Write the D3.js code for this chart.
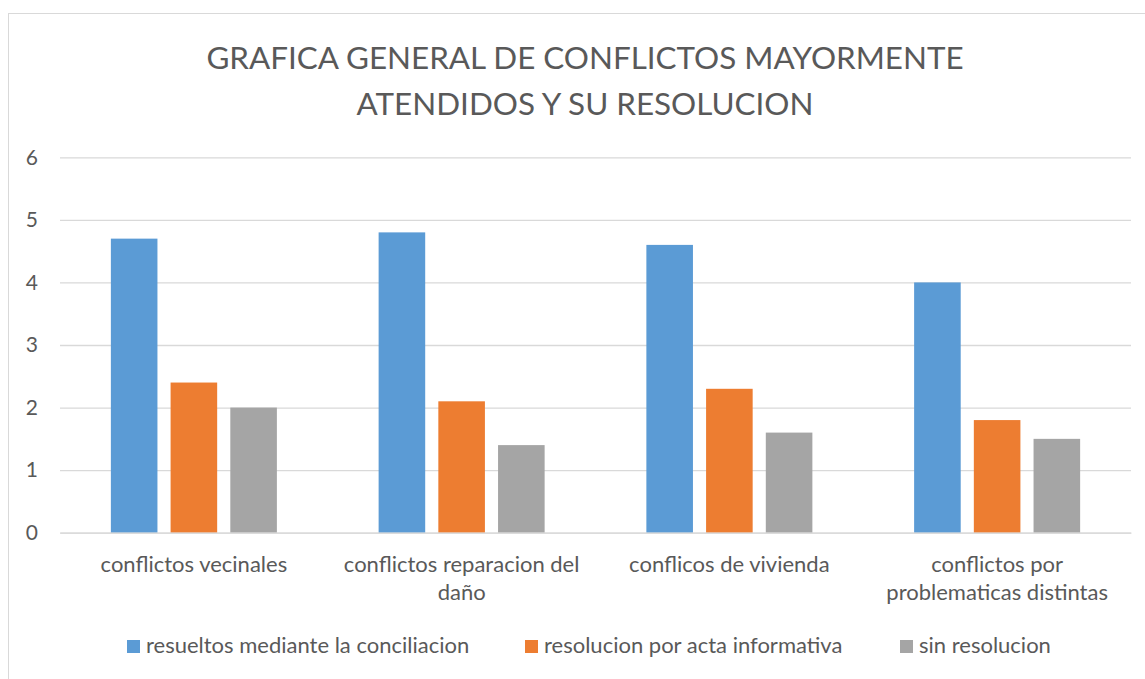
<!DOCTYPE html>
<html>
<head>
<meta charset="utf-8">
<script src="https://cdn.jsdelivr.net/npm/d3@7"></script>
<style>
  body { margin: 0; background: #fff; }
  text { font-family: Lato, "Open Sans", sans-serif; fill: #595959; }
</style>
</head>
<body>
<div id="chart-area"><svg></svg></div>
<script>
const titleLines = ["GRAFICA GENERAL DE CONFLICTOS MAYORMENTE", "ATENDIDOS Y SU RESOLUCION"];
const categories = [
  ["conflictos vecinales"],
  ["conflictos reparacion del", "daño"],
  ["conflicos de vivienda"],
  ["conflictos por", "problematicas distintas"]
];
const seriesNames = [
  "resueltos mediante la conciliacion",
  "resolucion por acta informativa",
  "sin resolucion"
];
const conciliacion = [4.7, 4.8, 4.6, 4.0];
const actaInformativa = [2.4, 2.1, 2.3, 1.8];
const sinResolucion = [2.0, 1.4, 1.6, 1.5];
const yTicks = [0, 1, 2, 3, 4, 5, 6];
const colors = ["#5b9bd5", "#ed7d31", "#a5a5a5"];

const chartSize = { width: 1145, height: 679 };
const plot = { left: 60, right: 1131, top: 157.3, bottom: 532.7 };

const main = () => {
  const values = [conciliacion, actaInformativa, sinResolucion];
  const keys = categories.map((c, i) => i);

  const svg = d3
    .select("#chart-area svg")
    .attr("width", chartSize.width)
    .attr("height", chartSize.height);

  // chart border (right/bottom run off the picture)
  svg
    .append("rect")
    .attr("x", 8.5)
    .attr("y", 13.5)
    .attr("width", 1160)
    .attr("height", 700)
    .attr("fill", "none")
    .attr("stroke", "#d9d9d9");

  svg
    .append("g")
    .selectAll("text")
    .data(titleLines)
    .enter()
    .append("text")
    .attr("x", 585)
    .attr("y", (d, i) => 69 + i * 46)
    .attr("text-anchor", "middle")
    .attr("font-size", 31.4)
    .text(d => d);

  const x0 = d3
    .scaleBand()
    .domain(keys)
    .range([plot.left, plot.right])
    .paddingInner(0.38)
    .paddingOuter(0.19);

  const x1 = d3
    .scaleBand()
    .domain(seriesNames)
    .range([0, x0.bandwidth()])
    .paddingInner(0.22);

  const y = d3
    .scaleLinear()
    .domain([0, 6])
    .range([plot.bottom, plot.top]);

  const yAxis = d3
    .axisLeft(y)
    .tickValues(yTicks)
    .tickFormat(d3.format("d"))
    .tickSize(-(plot.right - plot.left))
    .tickPadding(22);

  const yg = svg
    .append("g")
    .attr("class", "y axis")
    .attr("transform", `translate(${plot.left},0)`)
    .call(yAxis);
  yg.select(".domain").remove();
  yg.selectAll("line").attr("stroke", "#d9d9d9").attr("stroke-width", 1.3);
  yg.selectAll("text")
    .attr("font-size", 21)
    .attr("fill", "#595959")
    .attr("font-family", "Lato, sans-serif");

  const groups = svg
    .append("g")
    .selectAll("g")
    .data(keys)
    .enter()
    .append("g")
    .attr("transform", k => `translate(${x0(k)},0)`);

  groups
    .selectAll("rect")
    .data(k => seriesNames.map((s, j) => ({ s, j, v: values[j][k] })))
    .enter()
    .append("rect")
    .attr("x", d => x1(d.s))
    .attr("width", x1.bandwidth())
    .attr("y", d => y(d.v))
    .attr("height", d => y(0) - y(d.v))
    .attr("fill", d => colors[d.j]);

  const xAxis = d3.axisBottom(x0).tickSize(0).tickFormat("");
  const xg = svg
    .append("g")
    .attr("class", "x axis")
    .attr("transform", `translate(0,${plot.bottom})`)
    .call(xAxis);
  xg.select(".domain").attr("stroke", "#d9d9d9").attr("stroke-width", 1.3);

  xg.selectAll(".tick")
    .append("text")
    .attr("text-anchor", "middle")
    .attr("font-size", 22)
    .selectAll("tspan")
    .data(k => categories[k])
    .enter()
    .append("tspan")
    .attr("x", 0)
    .attr("y", (d, i) => 39 + i * 28.5)
    .text(d => d);

  const legendX = [127, 525, 900];
  const legend = svg
    .append("g")
    .selectAll("g")
    .data(seriesNames)
    .enter()
    .append("g")
    .attr("transform", (d, i) => `translate(${legendX[i]},640)`);

  legend
    .append("rect")
    .attr("width", 13)
    .attr("height", 13)
    .attr("fill", (d, i) => colors[i]);

  legend
    .append("text")
    .attr("x", 19)
    .attr("y", 12.5)
    .attr("font-size", 22)
    .text(d => d);
};

window.onload = main;
</script>
</body>
</html>
